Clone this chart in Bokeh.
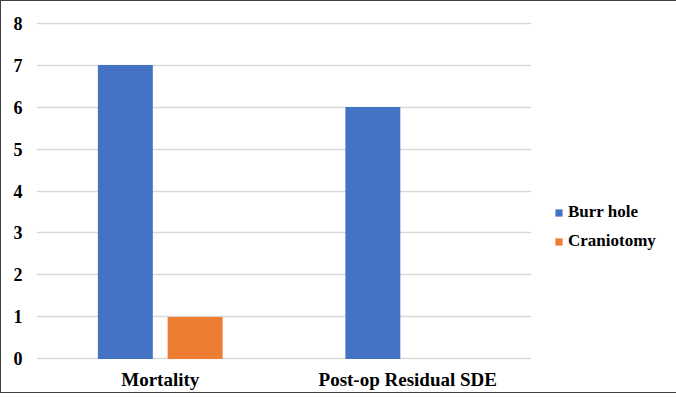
from bokeh.plotting import figure
from bokeh.models import ColumnDataSource, FactorRange, Range1d, Legend, LegendItem
from bokeh.transform import dodge
from bokeh.embed import file_html
from bokeh.resources import INLINE

categories = ["Mortality", "Post-op Residual SDE"]
burr_hole = [7, 6]
craniotomy = [1, 0]
y_ticks = [0, 1, 2, 3, 4, 5, 6, 7, 8]

source = ColumnDataSource(dict(cat=categories, burr=burr_hole, cran=craniotomy))

FONT = "Liberation Serif"

p = figure(width=660, height=390, frame_width=495, frame_height=337,
           x_range=FactorRange(*categories), y_range=Range1d(-0.012, 8.012),
           output_backend="svg", toolbar_location=None,
           min_border_left=35, min_border_right=0, min_border_top=21, min_border_bottom=32)

r1 = p.vbar(x=dodge("cat", -0.141, range=p.x_range), top="burr", width=0.222,
            source=source, fill_color="#4472C4", line_color=None)
r2 = p.vbar(x=dodge("cat", 0.141, range=p.x_range), top="cran", width=0.222,
            source=source, fill_color="#ED7D31", line_color=None)

p.outline_line_color = None
p.xgrid.grid_line_color = None
p.ygrid.grid_line_color = "#D9D9D9"
p.ygrid.grid_line_width = 1.3
p.ygrid.ticker = y_ticks
p.yaxis.ticker = y_ticks

for ax in (p.xaxis, p.yaxis):
    ax.axis_line_color = None
    ax.major_tick_line_color = None
    ax.minor_tick_line_color = None
    ax.major_tick_out = 0
    ax.major_tick_in = 0
    ax.major_label_text_font = FONT
    ax.major_label_text_font_style = "bold"
    ax.major_label_text_color = "#000000"

p.yaxis.major_label_text_font_size = "18px"
p.yaxis.major_label_standoff = 14
p.xaxis.major_label_text_font_size = "19px"
p.xaxis.major_label_standoff = 9

legend = Legend(items=[LegendItem(label="Burr hole", renderers=[r1]),
                       LegendItem(label="Craniotomy", renderers=[r2])],
                location=(23, 108), orientation="vertical",
                padding=0, margin=0, spacing=9,
                glyph_width=9, glyph_height=9, label_standoff=5, label_height=20,
                border_line_color=None, background_fill_alpha=0,
                label_text_font=FONT, label_text_font_style="bold",
                label_text_font_size="17px", label_text_color="#000000")
p.add_layout(legend, "right")

p.styles = {"border": "1.5px solid #404040", "box-sizing": "border-box"}

open("out.html", "w").write(file_html(p, INLINE))
